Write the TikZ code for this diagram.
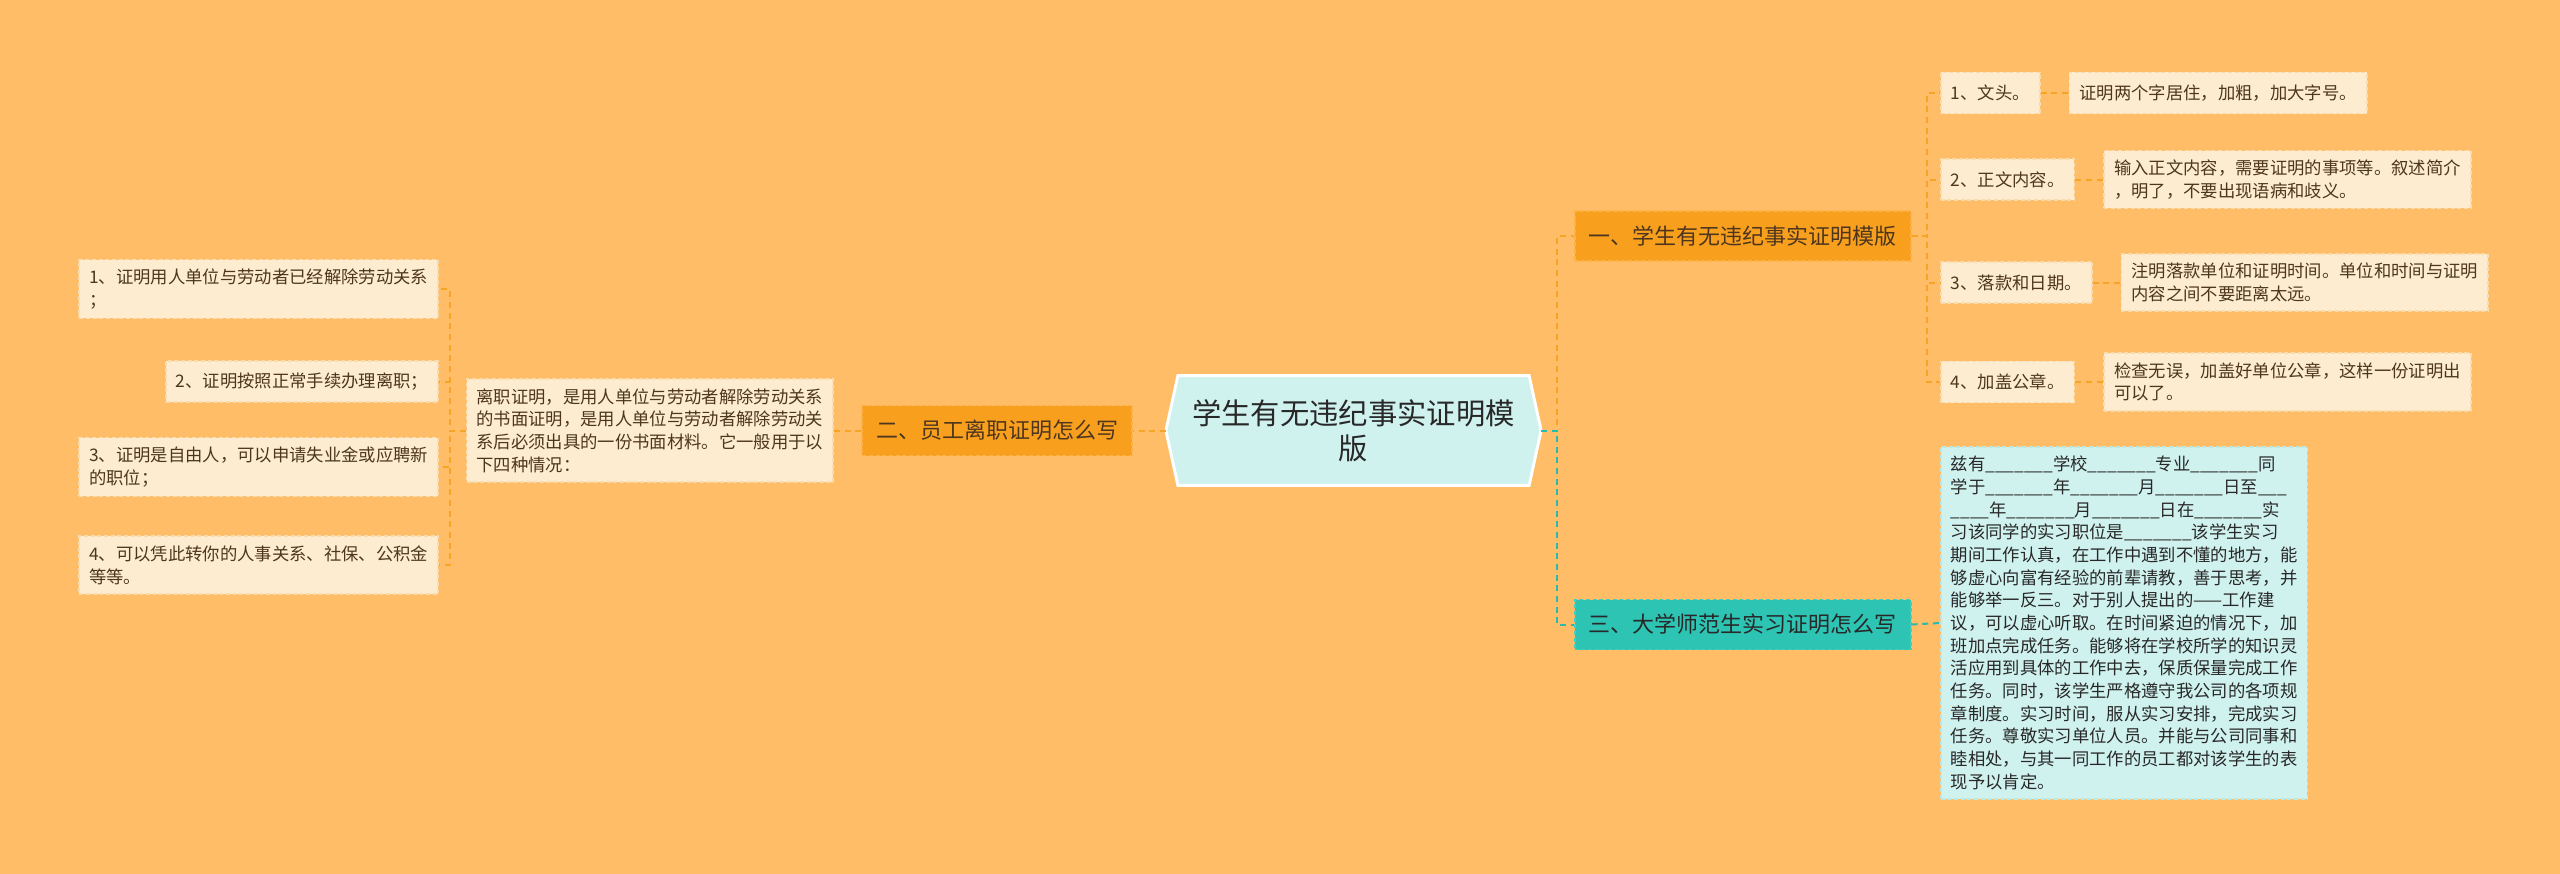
\documentclass[tikz,border=0pt]{standalone}
\usepackage{fontspec}
\setmainfont{Noto Sans CJK SC}
\usetikzlibrary{positioning,calc,backgrounds}
\definecolor{mmbg}{RGB}{255,189,103}
\definecolor{mmcream}{RGB}{253,236,208}
\definecolor{mmcreamedge}{RGB}{247,220,176}
\definecolor{mmorange}{RGB}{248,160,30}
\definecolor{mmorangeedge}{RGB}{252,178,70}
\definecolor{mmteal}{RGB}{45,196,180}
\definecolor{mmtealedge}{RGB}{70,205,190}
\definecolor{mmaqua}{RGB}{208,242,238}
\definecolor{mmaquaedge}{RGB}{190,232,226}
\definecolor{mmline}{RGB}{246,163,38}
\definecolor{mmtealline}{RGB}{40,186,170}
\definecolor{mmtext}{RGB}{78,54,30}
\definecolor{mmdark}{RGB}{40,40,40}
\tikzset{
  hub/.style={align=center, minimum width=263pt, minimum height=82pt, inner sep=0pt, text=mmdark, font=\fontsize{22}{26}\selectfont},
  hubframe/.style={draw=white, line width=2.2pt, fill=mmaqua},
  branch/.style={draw=mmorangeedge, dash pattern=on 3pt off 2pt, line width=1.2pt, fill=mmorange, inner xsep=10.5pt, inner ysep=0pt, minimum height=37.5pt, text=mmtext, font=\fontsize{16.5}{20}\selectfont},
  tealbranch/.style={branch, draw=mmtealedge, fill=mmteal, text=mmdark},
  leaf/.style={draw=mmcreamedge, dash pattern=on 3pt off 2pt, line width=1.2pt, fill=mmcream, align=left, inner xsep=7.5pt, inner ysep=7pt, minimum height=31pt, text=mmtext, font=\fontsize{13}{17}\selectfont},
  tealleaf/.style={leaf, draw=mmaquaedge, fill=mmaqua, text=mmdark},
  link/.style={draw=mmline, line width=1.5pt, dash pattern=on 4.5pt off 3.5pt},
  teallink/.style={link, draw=mmtealline}
}
\newcommand{\blank}{\_\_\_\_\_\_\_}
\begin{document}
\begin{tikzpicture}[x=0.75pt, y=-0.75pt]
  \useasboundingbox (0,0) rectangle (2560,874);

  % centre
  \node[hub] (root) at (1353.5,430.5) {学生有无违纪事实证明模\\版};
  \coordinate (tipL) at ($(root.west)+(-12,0)$);
  \coordinate (tipR) at ($(root.east)+(12,0)$);
  \begin{scope}[on background layer]
    \fill[mmbg] (0,0) rectangle (2560,874);
    \draw[hubframe] (root.north west) -- (root.north east) -- (tipR) -- (root.south east) -- (root.south west) -- (tipL) -- cycle;
  \end{scope}

  % left side
  \node[branch, anchor=east] (quit) at (1133,430.5) {二、员工离职证明怎么写};
  \node[leaf, anchor=east] (quitnote) at (834,430.5) {离职证明，是用人单位与劳动者解除劳动关系\\的书面证明，是用人单位与劳动者解除劳动关\\系后必须出具的一份书面材料。它一般用于以\\下四种情况：};
  \node[leaf, anchor=east] (use1) at (439,289) {1、证明用人单位与劳动者已经解除劳动关系\\；};
  \node[leaf, anchor=east] (use2) at (439,381.5) {2、证明按照正常手续办理离职；};
  \node[leaf, anchor=east] (use3) at (439,467) {3、证明是自由人，可以申请失业金或应聘新\\的职位；};
  \node[leaf, anchor=east] (use4) at (439,565) {4、可以凭此转你的人事关系、社保、公积金\\等等。};

  % right side, first branch
  \node[branch, anchor=west] (tmpl) at (1574,236) {一、学生有无违纪事实证明模版};
  \node[leaf, anchor=west] (part1) at (1940,93) {1、文头。};
  \node[leaf, anchor=west] (part2) at (1940,179.5) {2、正文内容。};
  \node[leaf, anchor=west] (part3) at (1940,282.5) {3、落款和日期。};
  \node[leaf, anchor=west] (part4) at (1940,382) {4、加盖公章。};
  \node[leaf, right=21pt of part1] (tip1) {证明两个字居住，加粗，加大字号。};
  \node[leaf, right=21pt of part2] (tip2) {输入正文内容，需要证明的事项等。叙述简介\\，明了，不要出现语病和歧义。};
  \node[leaf, right=21pt of part3] (tip3) {注明落款单位和证明时间。单位和时间与证明\\内容之间不要距离太远。};
  \node[leaf, right=21pt of part4] (tip4) {检查无误，加盖好单位公章，这样一份证明出\\可以了。};

  % right side, second branch
  \node[tealbranch, anchor=west] (intern) at (1574,624.5) {三、大学师范生实习证明怎么写};
  \node[tealleaf, anchor=west] (internnote) at (1940,623) {兹有\blank 学校\blank 专业\blank 同\\学于\blank 年\blank 月\blank 日至\_\_\_\\\_\_\_\_年\blank 月\blank 日在\blank 实\\习该同学的实习职位是\blank 该学生实习\\期间工作认真，在工作中遇到不懂的地方，能\\够虚心向富有经验的前辈请教，善于思考，并\\能够举一反三。对于别人提出的——工作建\\议，可以虚心听取。在时间紧迫的情况下，加\\班加点完成任务。能够将在学校所学的知识灵\\活应用到具体的工作中去，保质保量完成工作\\任务。同时，该学生严格遵守我公司的各项规\\章制度。实习时间，服从实习安排，完成实习\\任务。尊敬实习单位人员。并能与公司同事和\\睦相处，与其一同工作的员工都对该学生的表\\现予以肯定。};

  % connectors
  \draw[link] (tipL) -- (quit.east);
  \draw[link] (quit.west) -- (quitnote.east);
  \foreach \n in {use1,use2,use3,use4}
    \draw[link] (quitnote.west) -- ++(-16,0) |- (\n.east);
  \draw[link] (tipR) -- ++(16,0) |- (tmpl.west);
  \draw[teallink] (tipR) -- ++(16,0) |- (intern.west);
  \foreach \n in {part1,part2,part3,part4}
    \draw[link] (tmpl.east) -- ++(15,0) |- (\n.west);
  \foreach \i in {1,2,3,4}
    \draw[link] (part\i.east) -- (tip\i.west);
  \draw[teallink] (intern.east) -- (internnote.west);
\end{tikzpicture}
\end{document}
